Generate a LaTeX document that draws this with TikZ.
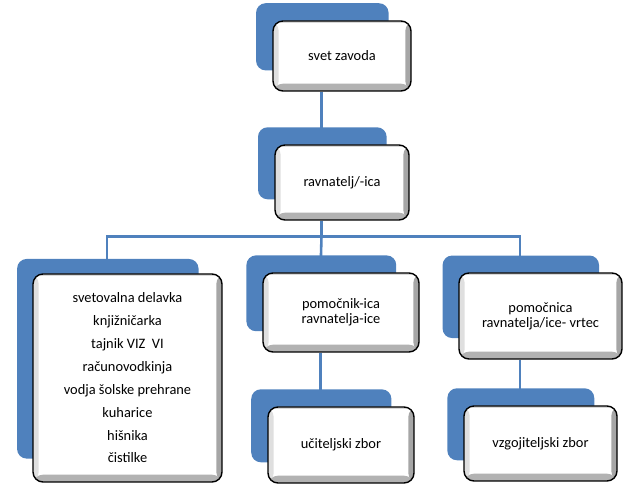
\documentclass[tikz,border=0pt]{standalone}
\usepackage{fontspec}
\setmainfont{Carlito}
\usetikzlibrary{shadows,backgrounds}
\definecolor{boxblue}{HTML}{4F81BD}
\tikzset{
  box/.style={draw=black, line width=1.2pt, rounded corners=0.3cm, fill=white,
    align=center, inner sep=0pt, font=\fontsize{12.3}{12.8}\selectfont,
    general shadow={fill=boxblue, shadow xshift=-0.615cm, shadow yshift=0.6cm, shadow scale=0.96},
    path picture={
      \fill[gray!25] (path picture bounding box.north west) rectangle ([xshift=0.17cm]path picture bounding box.south west);
      \fill[gray!30] (path picture bounding box.north west) rectangle ([yshift=-0.06cm]path picture bounding box.north east);
      \fill[gray!60] (path picture bounding box.south west) rectangle ([yshift=0.22cm]path picture bounding box.south east);
      \fill[gray!70] (path picture bounding box.north east) rectangle ([xshift=-0.17cm]path picture bounding box.south east);
    }},
  link/.style={draw=boxblue, line width=2.2pt}
}
\begin{document}
\begin{tikzpicture}
%\draw[step=1cm,gray,very thin] (0,0) grid (19,14);
\useasboundingbox (0,0) rectangle (19.02,14.64);

\node[box, minimum width=4.14cm, minimum height=2.1cm] (svet) at (10.26,12.96) {svet zavoda};

\node[box, minimum width=4.02cm, minimum height=2.25cm] (ravn) at (10.26,9.165) {ravnatelj/-ica};

\node[box, minimum width=5.67cm, minimum height=6.24cm, font=\fontsize{12.3}{19.5}\selectfont] (osebje) at (3.825,3.3)
  {svetovalna delavka\\ knjižničarka\\ tajnik VIZ\ \ VI\\ računovodkinja\\ vodja šolske prehrane\\ kuharice\\ hišnika\\ čistilke};

\node[box, minimum width=4.68cm, minimum height=2.37cm] (pom1) at (10.23,5.265) {pomočnik-ica\\ ravnatelja-ice};

\node[box, minimum width=4.38cm, minimum height=2.28cm] (ucit) at (10.23,1.29) {učiteljski zbor};

\node[box, minimum width=4.89cm, minimum height=2.58cm] (pom2) at (16.215,5.16) {pomočnica\\ ravnatelja/ice- vrtec};

\node[box, minimum width=4.59cm, minimum height=2.25cm] (vzgo) at (16.215,1.335) {vzgojiteljski zbor};

\begin{scope}[on background layer]
\coordinate (bar) at ([xshift=-0.615cm, yshift=-0.48cm]ravn.south);

\draw[link] ([xshift=-0.615cm]svet.south) -- ([xshift=-0.615cm]ravn.north);

\draw[link] ([xshift=-0.615cm]ravn.south) -- (bar);

\draw[link] (bar) -| ([xshift=-0.615cm]osebje.north);

\draw[link] (bar) -| ([xshift=-0.615cm]pom2.north);

\draw[link] (bar) -- ([xshift=-0.615cm]pom1.north);

\draw[link] ([xshift=-0.615cm]pom1.south) -- ([xshift=-0.615cm]ucit.north);

\draw[link] ([xshift=-0.615cm]pom2.south) -- ([xshift=-0.615cm]vzgo.north);
\end{scope}

\end{tikzpicture}
\end{document}
